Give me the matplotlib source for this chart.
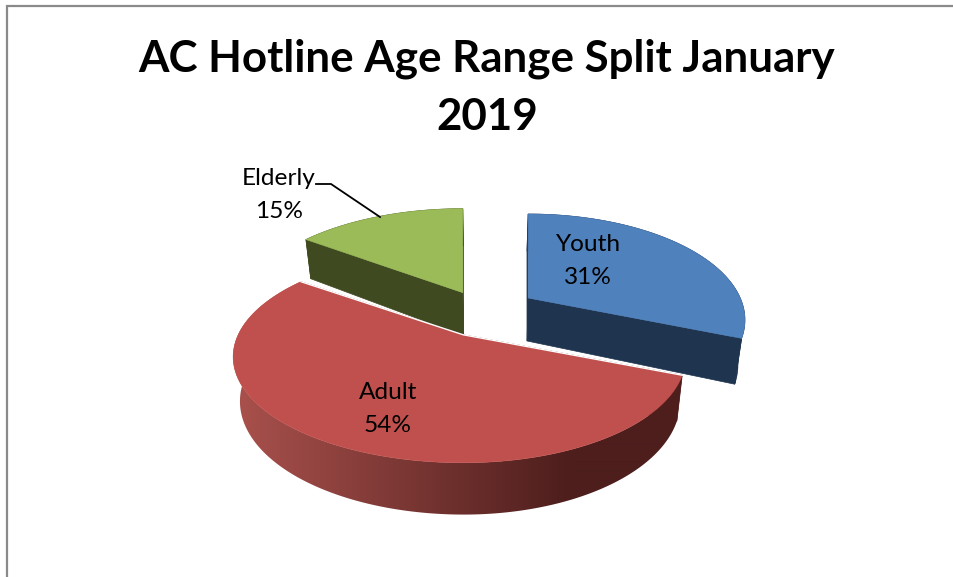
import numpy as np
import matplotlib
matplotlib.use('Agg')
import matplotlib.pyplot as plt
from matplotlib.colors import to_rgb
from matplotlib.patches import Polygon

# --- data ---
title = 'AC Hotline Age Range Split January\n2019'
labels = ['Youth', 'Adult', 'Elderly']
values = [31, 54, 15]

# --- styles ---
top_colors = ['#4f81bd', '#c0504d', '#9bbb59']
wall_colors = ['#1f344f', '#4d1e1c', '#3f4a21']
red_wall_left = '#a8504c'
draw_order = [0, 2, 1]
label_pos = [(588, 261), (388, 409), (279, 195)]

# pie geometry in pixels (page coordinates of the reference)
cx, cy = 485, 312
rx, ry = 217.5, 101.4
persp = 0.2076
explode = 0.235
depth = 43
shrink = 0.973
# small per slice corrections, the original perspective is not quite a clean one
apex_nudge = [(2, -1), (4, 1), (0, 1)]
rx_factor = [0.975, 1.0, 1.0]
left_stretch = [1.0, 1.035, 1.0]

plt.rcParams['font.family'] = ['Lato', 'DejaVu Sans']

fig = plt.figure(figsize=(9.54, 5.77), dpi=100)
ax = fig.add_axes([0, 0, 1, 1])
ax.set_xlim(0, 954)
ax.set_ylim(577, 0)
ax.axis('off')

# chart frame, only top and left are in the crop
ax.plot([7, 7, 954], [577, 6, 6], color='#8a8a8a', lw=1.6, solid_joinstyle='miter')


def scale(v):
    return 1 / (1 - persp * v)


def rim(t, i, ux, uy, bottom=False):
    # rim of slice i whose apex sits at ux, uy on the page
    v = -np.cos(t)
    s = scale(v)
    sin_t = np.sin(t)
    stretch = np.where(sin_t < 0, left_stretch[i], 1.0)
    x = ux + rx * rx_factor[i] * stretch * sin_t * s
    y = uy + ry * v * s
    if bottom:
        x = cx + (x - cx) * shrink
        y = y + depth * s ** 0.8
    return x, y


fractions = np.array(values) / sum(values)
edges = np.concatenate([[0], np.cumsum(fractions)]) * 2 * np.pi

for i in draw_order:
    t0, t1 = edges[i], edges[i + 1]
    tm = (t0 + t1) / 2
    # apex position after the explosion
    u0, v0 = explode * np.sin(tm), -explode * np.cos(tm)
    ux = cx + rx * u0 * scale(v0) + apex_nudge[i][0]
    uy = cy + ry * v0 * scale(v0) + apex_nudge[i][1]
    bx = cx + (ux - cx) * shrink
    by = uy + depth

    t = np.linspace(t0, t1, 200)
    xt, yt = rim(t, i, ux, uy)
    xb, yb = rim(t, i, ux, uy, bottom=True)

    # the two cut faces
    ax.fill([ux, xt[0], xb[0], bx], [uy, yt[0], yb[0], by], color=wall_colors[i], lw=0.5)
    ax.fill([ux, xt[-1], xb[-1], bx], [uy, yt[-1], yb[-1], by], color=wall_colors[i], lw=0.5)

    # outer wall, the red one has the gradient
    wall_xy = np.c_[np.r_[xt, xb[::-1]], np.r_[yt, yb[::-1]]]
    if i == 1:
        page_x = np.arange(954)
        f = np.clip((page_x - 240) / (570 - 240), 0, 1)[None, :, None]
        a, b = np.array(to_rgb(red_wall_left)), np.array(to_rgb(wall_colors[1]))
        grad = a + (b - a) * f
        im = ax.imshow(grad, extent=(0, 954, 577, 0), aspect='auto', interpolation='bilinear')
        im.set_clip_path(Polygon(wall_xy, transform=ax.transData))
        ax.set_xlim(0, 954)
        ax.set_ylim(577, 0)
    else:
        ax.fill(wall_xy[:, 0], wall_xy[:, 1], color=wall_colors[i], lw=0.5)

    # top face
    ax.fill(np.r_[ux, xt], np.r_[uy, yt], color=top_colors[i], lw=0.4)

    # light line along the cut edges of the front slice
    if i == 1:
        ax.plot([xt[0], ux, xt[-1]], [yt[0], uy, yt[-1]], color='white', lw=1.0)

# labels
for name, val, (lx, ly) in zip(labels, values, label_pos):
    ax.text(lx, ly, f'{name}\n{val}%', ha='center', va='center', fontsize=17.6,
            color='black', linespacing=1.65)

# leader line for Elderly
ax.plot([316, 331, 380], [184, 184, 217], color='black', lw=1.3)

ax.text(487, 88, title, ha='center', va='center', fontsize=31.6, fontweight='bold',
        color='black', linespacing=1.55)

fig.savefig('out.png', dpi=100)
